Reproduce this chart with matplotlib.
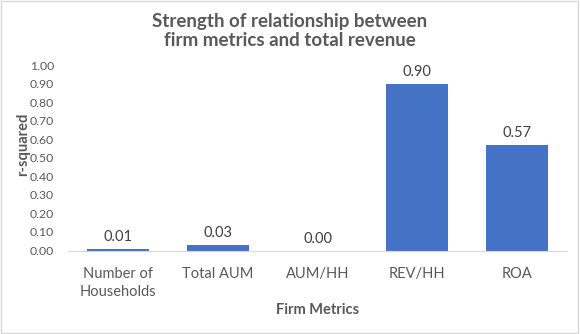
import matplotlib.pyplot as plt
import matplotlib.patches as patches

metrics = ["Number of\nHouseholds", "Total AUM", "AUM/HH", "REV/HH", "ROA"]
r_squared = [0.01, 0.03, 0.00, 0.90, 0.57]
y_ticks = [0.0, 0.1, 0.2, 0.3, 0.4, 0.5, 0.6, 0.7, 0.8, 0.9, 1.0]

plt.rcParams['font.family'] = ['Lato', 'DejaVu Sans']
text_col = '#595959'

fig = plt.figure(figsize=(5.8, 3.34), dpi=100)
ax = fig.add_axes([0.117, 0.25, 0.861, 0.555])

bars = ax.bar(range(len(metrics)), r_squared, width=0.62, color='#4472C4')
for i, v in enumerate(r_squared):
    ax.text(i, v + 0.025, f"{v:.2f}", ha='center', va='bottom', fontsize=10.5, color='#404040')

ax.set_xlim(-0.5, len(metrics) - 0.5)
ax.set_ylim(0, 1.0)
ax.set_yticks(y_ticks)
ax.set_yticklabels([f"{t:.2f}" for t in y_ticks])
ax.set_xticks(range(len(metrics)))
ax.set_xticklabels(metrics, fontsize=10.5, color=text_col, linespacing=1.35)
ax.tick_params(axis='y', labelsize=8.8, colors=text_col, length=0, pad=10)
ax.tick_params(axis='x', length=0, pad=12)

for s in ['top', 'right', 'left']:
    ax.spines[s].set_visible(False)
ax.spines['bottom'].set_color('#D9D9D9')

ax.set_xlabel("Firm Metrics", fontsize=10.5, fontweight='bold', color=text_col)
ax.set_ylabel("r-squared", fontsize=10.5, fontweight='bold', color=text_col)
ax.xaxis.set_label_coords(0.5, -0.32)
ax.yaxis.set_label_coords(-0.09, 0.574)
ax.xaxis.label.set_va('center')
ax.yaxis.label.set_va('center')

fig.text(0.5, 0.907, "Strength of relationship between\nfirm metrics and total revenue",
         ha='center', va='center', fontsize=13.5, fontweight='bold', color=text_col, linespacing=1.15)

# light chart border
fig.patches.append(patches.Rectangle((0.002, 0.003), 0.995, 0.993, transform=fig.transFigure,
                                     fill=False, edgecolor='#D9D9D9', linewidth=1))

fig.savefig("out.png", dpi=100)
